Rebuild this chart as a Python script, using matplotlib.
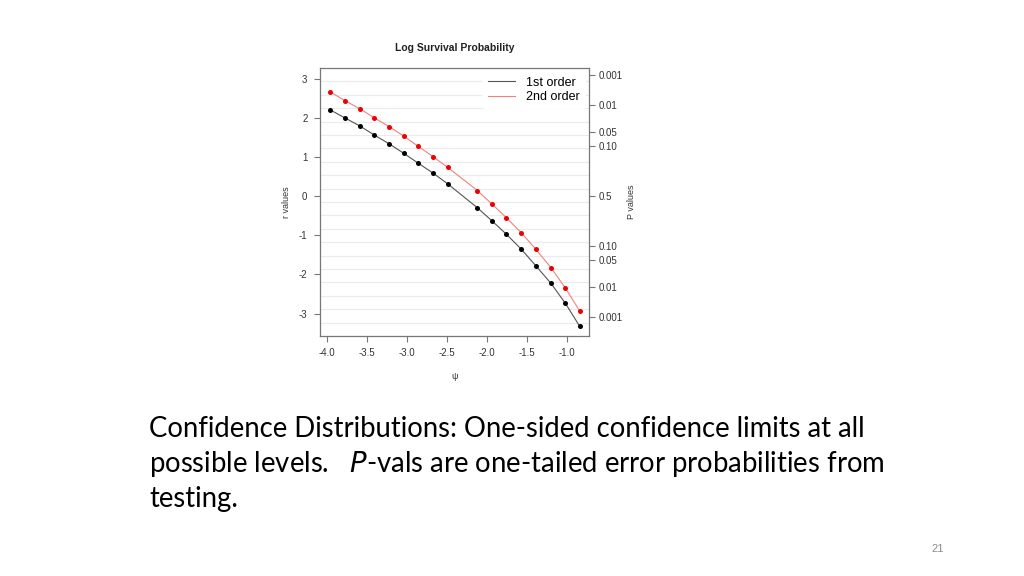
import matplotlib
matplotlib.use("Agg")
import matplotlib.pyplot as plt
import numpy as np

# ---- data ----
psi = [-3.96, -3.78, -3.59, -3.41, -3.22, -3.04, -2.86, -2.67, -2.49,
       -2.12, -1.94, -1.76, -1.57, -1.39, -1.20, -1.02, -0.84]
r_first = [2.20, 2.00, 1.79, 1.56, 1.33, 1.09, 0.84, 0.58, 0.31,
           -0.30, -0.63, -0.97, -1.36, -1.78, -2.23, -2.74, -3.33]
r_second = [2.66, 2.44, 2.23, 2.00, 1.77, 1.53, 1.27, 1.00, 0.73,
            0.14, -0.20, -0.55, -0.94, -1.36, -1.83, -2.35, -2.94]
x_ticks = [-4.0, -3.5, -3.0, -2.5, -2.0, -1.5, -1.0]
x_ticklabels = ["-4.0", "-3.5", "-3.0", "-2.5", "-2.0", "-1.5", "-1.0"]
y_ticks = [-3, -2, -1, 0, 1, 2, 3]
p_tick_r = [3.090, 2.326, 1.645, 1.282, 0.0, -1.282, -1.645, -2.326, -3.090]
p_tick_labels = ["0.001", "0.01", "0.05", "0.10", "0.5", "0.10", "0.05", "0.01", "0.001"]
series_names = ["1st order", "2nd order"]

plt.rcParams['font.family'] = ['Liberation Sans', 'DejaVu Sans']
plt.rcParams['axes.unicode_minus'] = False

fig = plt.figure(figsize=(10.24, 5.76), dpi=100)
ax = fig.add_axes([320/1024, 1-336/576, (589-320)/1024, (336-68)/576])
ax.set_xlim(-4.0875, -0.725)
ax.set_ylim(-3.574, 3.27)

# faint horizontal guide lines
for k in range(1, 20):
    ax.axhline(-3.574 + k*(3.27+3.574)/20, color="#ebebeb", lw=0.8, zorder=0)

ax.plot(psi, r_first, color="#555555", lw=0.8, zorder=2, label=series_names[0])
ax.plot(psi, r_second, color="#f08080", lw=0.8, zorder=2, label=series_names[1])
ax.scatter(psi, r_first, s=13, color="black", zorder=3, linewidths=0)
ax.scatter(psi, r_second, s=13, color="#ee0000", zorder=3, linewidths=0)

for s in ax.spines.values():
    s.set_color("#777777")
    s.set_linewidth(0.9)

ax.set_xticks(x_ticks)
ax.set_xticklabels(x_ticklabels)
ax.set_yticks(y_ticks)
ax.tick_params(axis="both", colors="#777777", labelcolor="#333333", labelsize=7,
               length=4, width=0.8, direction="out")
ax.tick_params(axis="x", pad=5)
ax.tick_params(axis="y", pad=5)

ax2 = ax.twinx()
ax2.set_ylim(ax.get_ylim())
ax2.set_yticks(p_tick_r)
ax2.set_yticklabels(p_tick_labels)
ax2.tick_params(axis="y", colors="#777777", labelcolor="#333333", labelsize=7,
                length=4, width=0.8, pad=3)
for s in ax2.spines.values():
    s.set_visible(False)

ax.set_xlabel("ψ", fontsize=6.5, color="#333333", labelpad=10)
ax.set_ylabel("r values", fontsize=6.5, color="#333333", labelpad=6)
ax2.set_ylabel("P values", fontsize=6.5, color="#333333", labelpad=3)
ax.set_title("Log Survival Probability", fontsize=7.5, fontweight="bold",
             color="#222222", pad=12)

leg = ax.legend(loc="upper right", frameon=True, fontsize=9, handlelength=2.2,
                borderaxespad=0.25, labelspacing=0.2, handletextpad=0.9,
                borderpad=0.45)
leg.get_frame().set_edgecolor("none")
leg.get_frame().set_facecolor("white")
leg.get_frame().set_alpha(1)

font_body = ["Lato", "DejaVu Sans"]
fig.text(149/1024, 1-429/576,
         "Confidence Distributions: One-sided confidence limits at all",
         fontsize=19.8, family=font_body, va="center", ha="left", color="black")
fig.text(149/1024, 1-464/576,
         "possible levels.   $\\it{P}$-vals are one-tailed error probabilities from",
         fontsize=19.8, family=font_body, va="center", ha="left", color="black")
fig.text(149/1024, 1-499/576, "testing.",
         fontsize=19.8, family=font_body, va="center", ha="left", color="black")
fig.text(938/1024, 1-549/576, "21", fontsize=8, color="#8c8c8c", ha="center", va="center")

fig.savefig("out.png", dpi=100)
